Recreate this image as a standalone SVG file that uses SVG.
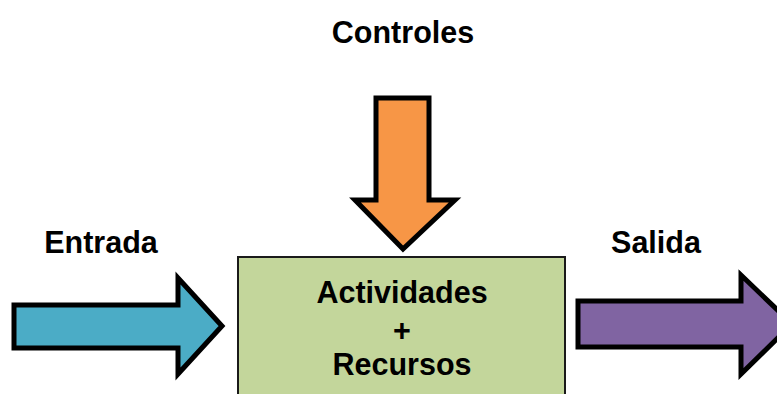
<svg xmlns="http://www.w3.org/2000/svg" width="777" height="394" viewBox="0 0 777 394">
<style>
.lbl{font-family:"Liberation Sans",Arial,sans-serif;font-weight:bold;font-size:30.5px;fill:#000;text-anchor:middle}
.arr{stroke:#000;stroke-width:5;stroke-linejoin:miter;stroke-miterlimit:10}
</style>
<rect width="777" height="394" fill="#fff"/>
<g id="connectors">
  <polygon id="entrada-arrow" class="arr" fill="#4bacc6" points="14,305 178,305 178,278 222,326 178,374 178,348 14,348"/>
  <polygon id="controles-arrow" class="arr" fill="#f79646" points="376,98 429,98 429,200 455,200 403,249 355,200 376,200"/>
  <polygon id="salida-arrow" class="arr" fill="#8064a2" points="578,301 741,301 741,275 792,324 741,374 741,347 578,347"/>
</g>
<g id="proceso">
  <rect x="238" y="257" width="327" height="150" fill="#c3d69b" stroke="#1a1a1a" stroke-width="2"/>
  <text class="lbl" x="402" y="303">Actividades</text>
  <text class="lbl" x="402" y="341">+</text>
  <text class="lbl" x="402" y="375">Recursos</text>
</g>
<g id="controles"><text class="lbl" x="403" y="43">Controles</text></g>
<g id="entrada"><text class="lbl" x="101" y="253">Entrada</text></g>
<g id="salida"><text class="lbl" x="656" y="253">Salida</text></g>
</svg>
